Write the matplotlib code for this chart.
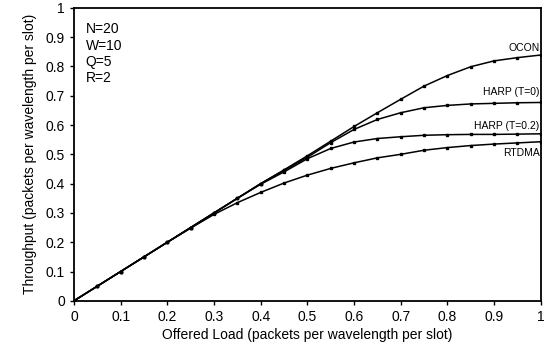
import numpy as np
import matplotlib
matplotlib.use('Agg')
import matplotlib.pyplot as plt

plt.rcParams['font.family'] = ['Liberation Sans', 'DejaVu Sans']

load = [0.0, 0.05, 0.10, 0.15, 0.20, 0.25, 0.30, 0.35, 0.40, 0.45, 0.50,
        0.55, 0.60, 0.65, 0.70, 0.75, 0.80, 0.85, 0.90, 0.95, 1.0]

ocon = [0.0, 0.05, 0.10, 0.15, 0.20, 0.25, 0.30, 0.35, 0.40, 0.447, 0.495,
        0.545, 0.595, 0.642, 0.688, 0.733, 0.769, 0.799, 0.819, 0.830, 0.839]
harp_t0 = [0.0, 0.05, 0.10, 0.15, 0.20, 0.25, 0.30, 0.35, 0.40, 0.445, 0.49,
           0.54, 0.585, 0.619, 0.642, 0.659, 0.667, 0.672, 0.674, 0.676, 0.677]
harp_t02 = [0.0, 0.05, 0.10, 0.15, 0.20, 0.25, 0.30, 0.35, 0.398, 0.44, 0.485,
            0.52, 0.542, 0.554, 0.560, 0.565, 0.567, 0.568, 0.568, 0.569, 0.570]
rtdma = [0.0, 0.05, 0.10, 0.15, 0.20, 0.248, 0.295, 0.335, 0.370, 0.402, 0.429,
         0.452, 0.471, 0.488, 0.500, 0.514, 0.523, 0.530, 0.535, 0.539, 0.543]

labels = ['OCON', 'HARP (T=0)', 'HARP (T=0.2)', 'RTDMA']
label_y = [0.862, 0.712, 0.596, 0.504]

fig = plt.figure(figsize=(5.46, 3.56), dpi=100)
ax = fig.add_axes([0.1355, 0.155, 0.855, 0.823])

for series in [ocon, harp_t0, harp_t02, rtdma]:
    ax.plot(load, series, color='black', linewidth=1.1,
            marker='s', markersize=1.6)

for lab, ly in zip(labels, label_y):
    ax.text(0.997, ly, lab, ha='right', va='center', fontsize=7.5)

ax.text(0.025, 0.95, 'N=20\nW=10\nQ=5\nR=2', ha='left', va='top',
        fontsize=10, linespacing=1.2)

ax.set_xlim(0, 1)
ax.set_ylim(0, 1)
ax.set_xticks(np.arange(0, 1.01, 0.1))
ax.set_yticks(np.arange(0, 1.01, 0.1))
ax.set_xticklabels(['0', '0.1', '0.2', '0.3', '0.4', '0.5', '0.6', '0.7', '0.8', '0.9', '1'])
ax.set_yticklabels(['0', '0.1', '0.2', '0.3', '0.4', '0.5', '0.6', '0.7', '0.8', '0.9', '1'])
ax.tick_params(direction='out', length=3, width=1, labelsize=10)
for s in ax.spines.values():
    s.set_linewidth(1.3)

ax.set_xlabel('Offered Load (packets per wavelength per slot)', fontsize=10, labelpad=3)
ax.set_ylabel('Throughput (packets per wavelength per slot)', fontsize=10, labelpad=6)

fig.savefig('out.png', dpi=100)
